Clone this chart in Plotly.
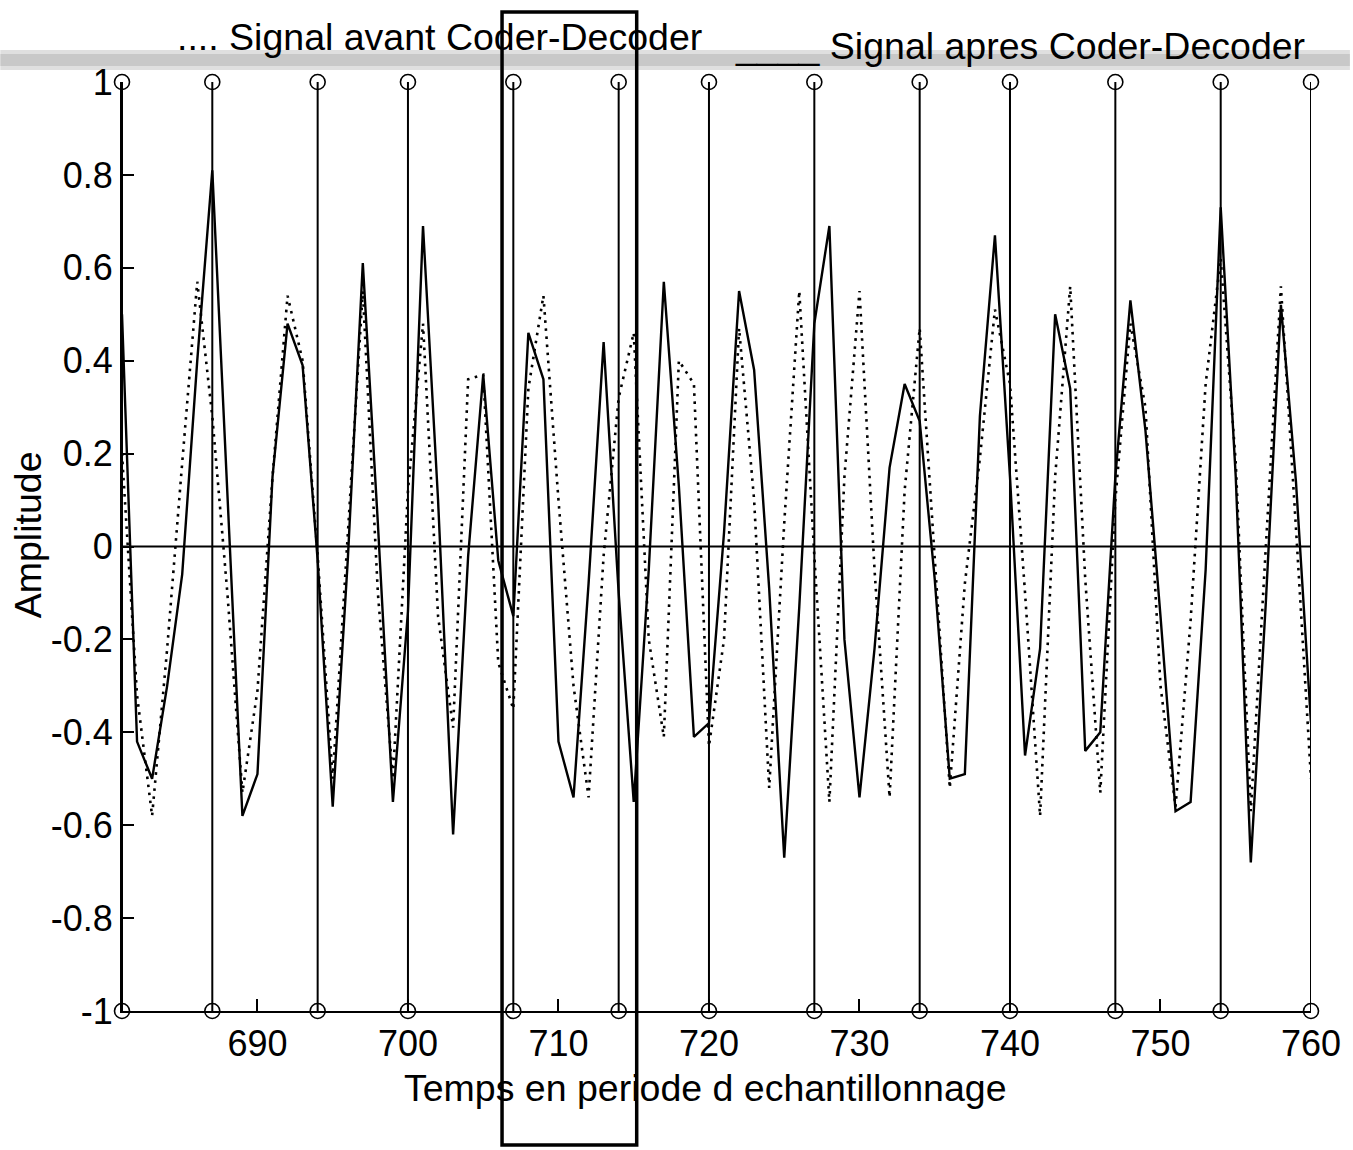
import plotly.graph_objects as go

# ---------------- data ----------------
samples = list(range(681, 761))

signal_before = [  # dotted: "Signal avant Coder-Decoder"
    0.20, -0.32, -0.58, -0.22, 0.18, 0.57, 0.28, -0.10, -0.53, -0.31,
    0.15, 0.54, 0.40, -0.02, -0.50, 0.03, 0.55, -0.10, -0.50, 0.12,
    0.48, -0.15, -0.39, 0.36, 0.37, -0.25, -0.35, 0.34, 0.54, 0.10,
    -0.30, -0.54, -0.02, 0.32, 0.46, -0.20, -0.41, 0.40, 0.35, -0.43,
    -0.20, 0.47, 0.10, -0.52, 0.05, 0.55, -0.02, -0.55, 0.15, 0.55,
    -0.05, -0.54, 0.12, 0.47, -0.03, -0.52, -0.08, 0.19, 0.51, 0.35,
    -0.10, -0.58, 0.15, 0.56, -0.07, -0.53, 0.10, 0.48, 0.30, -0.30,
    -0.56, -0.16, 0.35, 0.62, 0.18, -0.57, 0.00, 0.56, 0.04, -0.50,
]

signal_after = [  # solid: "Signal apres Coder-Decoder"
    0.50, -0.42, -0.50, -0.30, -0.06, 0.40, 0.81, 0.10, -0.58, -0.49,
    0.15, 0.48, 0.39, -0.03, -0.56, -0.03, 0.61, 0.05, -0.55, -0.14,
    0.69, 0.10, -0.62, -0.02, 0.37, -0.03, -0.15, 0.46, 0.36, -0.42,
    -0.54, -0.08, 0.44, -0.10, -0.55, -0.05, 0.57, 0.13, -0.41, -0.38,
    0.03, 0.55, 0.38, -0.09, -0.67, -0.13, 0.48, 0.69, -0.20, -0.54,
    -0.22, 0.17, 0.35, 0.27, -0.07, -0.50, -0.49, 0.28, 0.67, 0.15,
    -0.45, -0.22, 0.50, 0.34, -0.44, -0.40, 0.15, 0.53, 0.25, -0.15,
    -0.57, -0.55, -0.05, 0.73, 0.15, -0.68, -0.12, 0.52, 0.14, -0.38,
]

stem_positions = [681, 687, 694, 700, 707, 714, 720, 727, 734, 740, 747, 754, 760]
stem_top_value = 1
stem_bottom_value = -1
baseline_value = 0

x_tick_values = [690, 700, 710, 720, 730, 740, 750, 760]
y_tick_values = [-1, -0.8, -0.6, -0.4, -0.2, 0, 0.2, 0.4, 0.6, 0.8, 1]
y_tick_labels = ["-1", "-0.8", "-0.6", "-0.4", "-0.2", "0", "0.2", "0.4", "0.6", "0.8", "1"]

legend_before = ".... Signal avant Coder-Decoder"
legend_after = "____ Signal apres Coder-Decoder"
x_title = "Temps en periode d echantillonnage"
y_title = "Amplitude"

# ---------------- layout geometry (pixels) ----------------
W, H = 1353, 1150
L, R, T, B = 122, 1314, 82, 1011


def px(x):
    return (x - L) / (R - L)


def py(y):
    return (B - y) / (B - T)


FONT = "Liberation Sans, Arial, Helvetica, sans-serif"
FS = 37.5
TICK_FS = 36

fig = go.Figure()

# stems (vertical lines from -1 to 1)
stem_x, stem_y = [], []
for p in stem_positions:
    stem_x += [p, p, None]
    stem_y += [stem_bottom_value, stem_top_value, None]
fig.add_trace(go.Scatter(x=stem_x, y=stem_y, mode="lines",
                         line=dict(color="black", width=2), hoverinfo="skip",
                         showlegend=False))

# stem baseline
fig.add_trace(go.Scatter(x=[min(stem_positions), max(stem_positions)],
                         y=[baseline_value, baseline_value], mode="lines",
                         line=dict(color="black", width=2), showlegend=False))

# dotted signal (before)
fig.add_trace(go.Scatter(x=samples, y=signal_before, mode="lines",
                         line=dict(color="black", width=2.6, dash="2.6px,5.5px"),
                         name="Signal avant Coder-Decoder", showlegend=False))

# solid signal (after)
fig.add_trace(go.Scatter(x=samples, y=signal_after, mode="lines",
                         line=dict(color="black", width=2.4),
                         name="Signal apres Coder-Decoder", showlegend=False))

# stem circles
fig.add_trace(go.Scatter(
    x=stem_positions + stem_positions,
    y=[stem_top_value] * len(stem_positions) + [stem_bottom_value] * len(stem_positions),
    mode="markers", cliponaxis=False,
    marker=dict(symbol="circle-open", size=15, color="black", line=dict(width=1.6)),
    showlegend=False))

shapes = [
    # grey scan band at the top
    dict(type="rect", xref="paper", yref="paper",
         x0=px(0), x1=px(W), y0=py(70), y1=py(50),
         fillcolor="rgba(150,150,150,0.3)", line=dict(width=0), layer="below"),
    dict(type="rect", xref="paper", yref="paper",
         x0=px(0), x1=px(W), y0=py(66), y1=py(54),
         fillcolor="rgba(150,150,150,0.3)", line=dict(width=0), layer="below"),
    # hand drawn box
    dict(type="rect", xref="paper", yref="paper",
         x0=px(503), x1=px(638), y0=py(1145), y1=py(12),
         line=dict(color="black", width=3.5)),
]

annotations = [
    dict(text=legend_before, xref="paper", yref="paper", x=px(175), y=py(37),
         xanchor="left", yanchor="middle", showarrow=False,
         font=dict(family=FONT, size=FS, color="black")),
    dict(text=legend_after, xref="paper", yref="paper", x=px(735), y=py(46),
         xanchor="left", yanchor="middle", showarrow=False,
         font=dict(family=FONT, size=FS, color="black")),
    dict(text=x_title, xref="paper", yref="paper", x=px(707), y=py(1088),
         xanchor="center", yanchor="middle", showarrow=False,
         font=dict(family=FONT, size=FS, color="black")),
    dict(text=y_title, xref="paper", yref="paper", x=px(28), y=py(535),
         xanchor="center", yanchor="middle", showarrow=False, textangle=-90,
         font=dict(family=FONT, size=FS, color="black")),
]

fig.update_layout(
    width=W, height=H, autosize=False,
    margin=dict(l=L, r=W - R, t=T, b=H - B, pad=0),
    paper_bgcolor="white", plot_bgcolor="white",
    showlegend=False,
    shapes=shapes, annotations=annotations,
    font=dict(family=FONT, size=FS, color="black"),
    xaxis=dict(range=[min(stem_positions), max(stem_positions)],
               tickmode="array", tickvals=x_tick_values,
               ticks="inside", ticklen=12, tickwidth=2, tickcolor="black",
               showline=True, linecolor="black", linewidth=2,
               showgrid=False, zeroline=False, mirror=False,
               tickfont=dict(family=FONT, size=TICK_FS, color="black")),
    yaxis=dict(range=[-1, 1], tickmode="array", tickvals=y_tick_values,
               ticktext=y_tick_labels,
               ticks="inside", ticklen=12, tickwidth=2, tickcolor="black",
               showline=True, linecolor="black", linewidth=2,
               showgrid=False, zeroline=False, mirror=False,
               tickfont=dict(family=FONT, size=TICK_FS, color="black")),
)

fig.write_html("out.html")
